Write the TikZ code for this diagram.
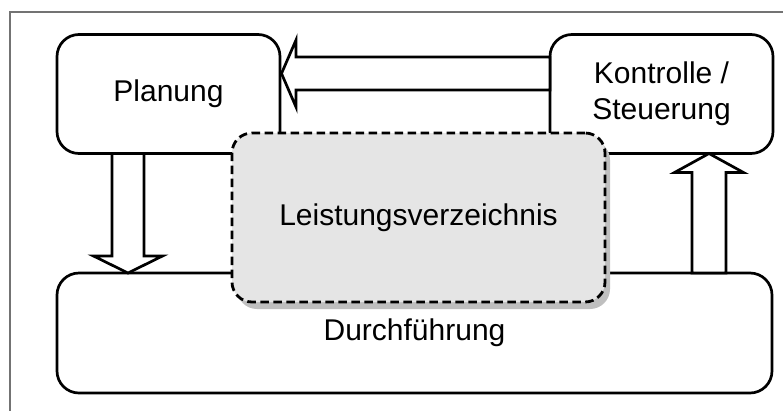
\documentclass[tikz,border=0pt]{standalone}
\usepackage{fontspec}
\setmainfont{Liberation Sans}
\usetikzlibrary{calc,shadows}
\begin{document}
\begin{tikzpicture}[x=1pt,y=-1pt,
  box/.style={draw=black, line width=2.7pt, rounded corners=22pt, fill=white,
    inner sep=0pt, outer sep=0pt, font=\fontsize{30}{36}\selectfont, align=center},
  fatarrow/.style={draw=black, line width=2.7pt, fill=white, line join=miter},
  lvbox/.style={draw=black, line width=2.8pt, dash pattern=on 8.5pt off 4.5pt,
    rounded corners=20pt, fill=black!10, inner sep=0pt, outer sep=0pt,
    font=\fontsize{30}{36}\selectfont,
    drop shadow={shadow xshift=5pt, shadow yshift=-7pt, fill=black!25, opacity=1, draw=none}},
  framel/.style={draw=black!55, line width=1.2pt}]
\useasboundingbox (0,0) rectangle (783,410);
\draw[framel] (10,412) -- (10,12) -- (785,12);

\node[box, minimum width=223pt, minimum height=119pt] (plan) at (168.5,94) {Planung};
\node[box, minimum width=223pt, minimum height=119pt] (kont) at (661.5,94) {Kontrolle /\\Steuerung};
\node[box, minimum width=715pt, minimum height=120pt] (durch) at (414.5,333) {Durchführung};

% left arrow: Kontrolle -> Planung
\coordinate (ltip) at ($(plan.east)+(1.5,-20.5)$);
\draw[fatarrow] ($(kont.west)+(0,-37)$) -- ($(ltip)+(14.5,-16.5)$) -- ($(ltip)+(14.5,-33.5)$)
  -- (ltip) -- ($(ltip)+(14.5,33.5)$) -- ($(ltip)+(14.5,16.5)$) -- ($(kont.west)+(0,-4)$) -- cycle;

% down arrow: Planung -> Durchfuehrung
\coordinate (dx) at ($(plan.south)+(-40.5,0)$);
\coordinate (dtip) at (dx |- durch.north);
\draw[fatarrow] ($(dx)+(-16,0)$) -- ($(dtip)+(-16,-17)$) -- ($(dtip)+(-34.5,-17)$) -- (dtip)
  -- ($(dtip)+(34.5,-17)$) -- ($(dtip)+(16,-17)$) -- ($(dx)+(16,0)$) -- cycle;

% up arrow: Durchfuehrung -> Kontrolle
\coordinate (ux) at ($(kont.south)+(47.5,0)$);
\coordinate (ubase) at (ux |- durch.north);
\draw[fatarrow] ($(ubase)+(-17,0)$) -- ($(ux)+(-17,19)$) -- ($(ux)+(-34.5,19)$) -- (ux)
  -- ($(ux)+(34.5,19)$) -- ($(ux)+(17,19)$) -- ($(ubase)+(17,0)$) -- cycle;

\node[lvbox, minimum width=373pt, minimum height=169pt] (lv) at (418.5,217.5) {Leistungsverzeichnis};
\end{tikzpicture}
\end{document}
